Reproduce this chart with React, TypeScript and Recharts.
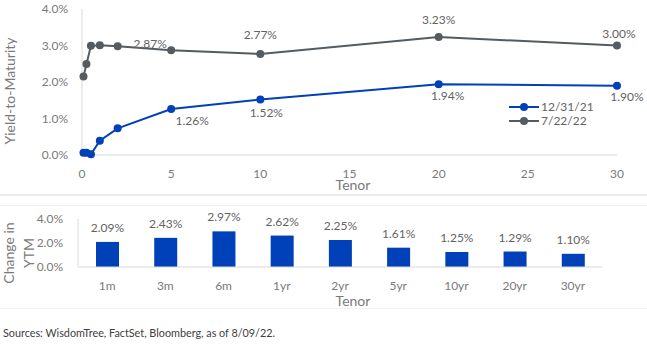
import React from 'react'
import { LineChart, Line, BarChart, Bar, XAxis, YAxis, LabelList, Legend } from 'recharts'

// Treasury curve, tenor in years
const tenorYears = [1 / 12, 0.25, 0.5, 1, 2, 5, 10, 20, 30]
const tenorLabels = ['1m', '3m', '6m', '1yr', '2yr', '5yr', '10yr', '20yr', '30yr']
const ytmDec21 = [0.06, 0.06, 0.02, 0.39, 0.73, 1.26, 1.52, 1.94, 1.9]
const ytmJul22 = [2.15, 2.49, 2.99, 3.01, 2.98, 2.87, 2.77, 3.23, 3.0]
const ytmChange = [2.09, 2.43, 2.97, 2.62, 2.25, 1.61, 1.25, 1.29, 1.1]

const yieldTicks = [0, 1, 2, 3, 4]
const tenorTicks = [0, 5, 10, 15, 20, 25, 30]
const changeTicks = [0, 2, 4]

const BLUE = '#0041b9'
const GREY = '#545b61'
const AXIS = '#d9d9d9'
const TICK = '#7a7a7a'
const LABEL = '#636363'

// only the long end gets value labels; [dx, dy] from the dot
const jul22Shift: Record<number, [number, number]> = { 5: [-21, -7], 10: [0, -19], 20: [0, -18], 30: [2, -12] }
const dec21Shift: Record<number, [number, number]> = { 5: [21, 11], 10: [6, 13], 20: [9, 11], 30: [10, 11] }

const curveRows = tenorYears.map((t, i) => ({ t, dec21: ytmDec21[i], jul22: ytmJul22[i] }))
const changeRows = tenorLabels.map((tenor, i) => ({ tenor, change: ytmChange[i] }))

const pct = (v: number, d: number) => `${v.toFixed(d)}%`

const pointLabel = (shift: Record<number, [number, number]>) => (props: any) => {
  const { index, value } = props
  const x = props.x ?? props.viewBox?.x
  const y = props.y ?? props.viewBox?.y
  const s = shift[tenorYears[index]]
  if (!s || x == null || y == null) return null
  return (
    <text x={x + s[0]} y={y + s[1]} textAnchor="middle" dominantBaseline="central" fontSize={12} fill={LABEL}>
      {pct(Number(value), 2)}
    </text>
  )
}

const CurveLegend = (props: any) => (
  <div style={{ fontSize: 12, color: LABEL, lineHeight: '14px' }}>
    {(props.payload || []).map((p: any) => (
      <div key={p.value} style={{ display: 'flex', alignItems: 'center' }}>
        <svg width={30} height={10} style={{ marginRight: 2 }}>
          <line x1={0} y1={5} x2={30} y2={5} stroke={p.color} strokeWidth={2} />
          <circle cx={15} cy={5} r={4} fill={p.color} />
        </svg>
        <span>{p.value}</span>
      </div>
    ))}
  </div>
)

const rule = (top: number, color: string, h = 1) => (
  <div style={{ position: 'absolute', left: 0, top, width: 647, height: h, background: color }} />
)

export default function App() {
  return (
    <div
      style={{
        position: 'absolute', left: 0, top: 0, width: 647, height: 345,
        background: '#fff', fontFamily: 'Lato, sans-serif', overflow: 'hidden',
      }}
    >
      <LineChart width={647} height={196} data={curveRows} margin={{ top: 9, right: 30, bottom: 11, left: 0 }}>
        <XAxis
          dataKey="t" type="number" domain={[0, 30]} ticks={tenorTicks} height={30}
          tickLine={false} axisLine={{ stroke: AXIS }} tickMargin={8}
          tick={{ fontSize: 12, fill: TICK }}
          label={{ content: () => <text x={353} y={190} textAnchor="middle" fontSize={14} fill={TICK}>Tenor</text> }}
        />
        <YAxis
          domain={[0, 4]} ticks={yieldTicks} width={82}
          tickLine={false} axisLine={{ stroke: AXIS }} tickMargin={8}
          tick={{ fontSize: 12, fill: TICK }} tickFormatter={(v) => pct(v, 1)}
          label={{
            content: () => (
              <text transform="translate(15,91) rotate(-90)" textAnchor="middle" fontSize={14} fill={TICK}>
                Yield-to-Maturity
              </text>
            ),
          }}
        />
        <Legend
          layout="vertical" align="center" verticalAlign="middle"
          wrapperStyle={{ left: 509, top: 100, width: 120 }}
          content={CurveLegend}
        />
        <Line
          dataKey="dec21" name="12/31/21" stroke={BLUE} strokeWidth={2}
          dot={{ r: 4, fill: BLUE, stroke: BLUE, strokeWidth: 0 }} isAnimationActive={false}
        >
          <LabelList dataKey="dec21" content={pointLabel(dec21Shift)} />
        </Line>
        <Line
          dataKey="jul22" name="7/22/22" stroke={GREY} strokeWidth={2}
          dot={{ r: 4, fill: GREY, stroke: GREY, strokeWidth: 0 }} isAnimationActive={false}
        >
          <LabelList dataKey="jul22" content={pointLabel(jul22Shift)} />
        </Line>
      </LineChart>

      {rule(194, '#ececec', 2)}
      {rule(205, '#efefef')}

      <div style={{ position: 'absolute', left: 0, top: 196 }}>
        <BarChart width={647} height={114} data={changeRows} margin={{ top: 23, right: 45, bottom: 13, left: 0 }}>
          <XAxis
            dataKey="tenor" tickLine={false} axisLine={{ stroke: AXIS }} tickMargin={8} height={30}
            tick={{ fontSize: 12, fill: TICK }}
            label={{ content: () => <text x={353} y={110} textAnchor="middle" fontSize={14} fill={TICK}>Tenor</text> }}
          />
          <YAxis
            domain={[0, 4]} ticks={changeTicks} width={78}
            tickLine={false} axisLine={{ stroke: AXIS }} tickMargin={9}
            tick={{ fontSize: 12, fill: TICK }} tickFormatter={(v) => pct(v, 1)}
            label={{
              content: () => (
                <text transform="translate(14,57) rotate(-90)" textAnchor="middle" fontSize={14} fill={TICK}>
                  <tspan x={0} dy={0}>Change in</tspan>
                  <tspan x={0} dy={20}>YTM</tspan>
                </text>
              ),
            }}
          />
          <Bar dataKey="change" fill={BLUE} barSize={23} isAnimationActive={false}>
            <LabelList
              dataKey="change" position="top" offset={10}
              fontSize={12} fill={LABEL} formatter={(v: any) => pct(Number(v), 2)}
            />
          </Bar>
        </BarChart>
      </div>

      {rule(308, '#f2f2f2')}

      <div style={{ position: 'absolute', left: 3, top: 326, fontSize: 10.8, color: '#404040', whiteSpace: 'nowrap' }}>
        Sources: WisdomTree, FactSet, Bloomberg, as of 8/09/22.
      </div>
    </div>
  )
}
